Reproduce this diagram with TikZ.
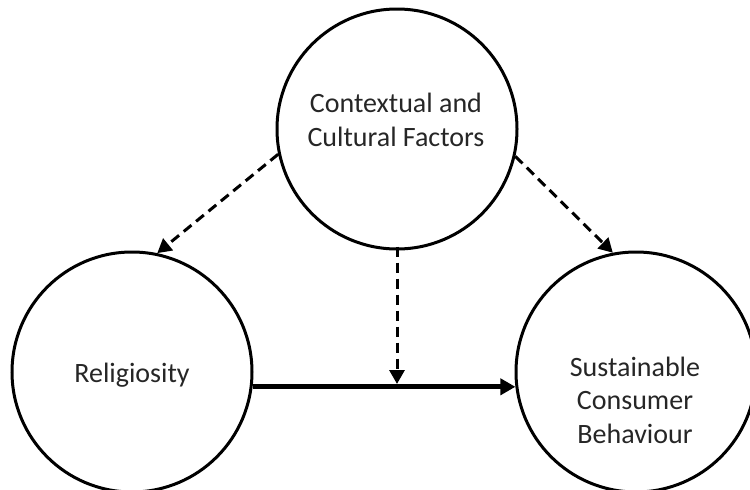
\documentclass[tikz,border=0pt]{standalone}
\usepackage{fontspec}
\setmainfont{Carlito}
\usetikzlibrary{arrows.meta}
\begin{document}
\begin{tikzpicture}[x=1pt,y=-1pt,
  circ/.style={circle,draw,line width=3pt,minimum size=240pt,inner sep=0pt},
  lbl/.style={align=center,font=\fontsize{28}{33.5}\selectfont,text=black!85},
  dasharrow/.style={line width=3pt,dash pattern=on 10pt off 6pt,-{Triangle[length=14pt,width=15pt]}},
  solidarrow/.style={line width=5pt,-{Triangle[length=15pt,width=16pt]}}]
\useasboundingbox (0,0) rectangle (750,490);
\node[circ] (ctx) at (397,129) {};
\node[circ] (rel) at (132,372) {};
\node[circ] (scb) at (636,372) {};
\node[lbl] (ctxt) at (396,120) {Contextual and\\Cultural Factors};
\node[lbl] (relt) at (132,375) {Religiosity};
\node[lbl] (scbt) at (635,400) {Sustainable\\Consumer\\Behaviour};
\coordinate (mid) at (397,384);
\draw[solidarrow] (rel.-7) -- (scb.187);
\draw[dasharrow,shorten <=-4pt] (ctx.south) -- (mid);
\draw[dasharrow] (ctx.192.7) -- (rel.78);
\draw[dasharrow] (ctx.347.3) -- (scb.101);
\end{tikzpicture}
\end{document}
